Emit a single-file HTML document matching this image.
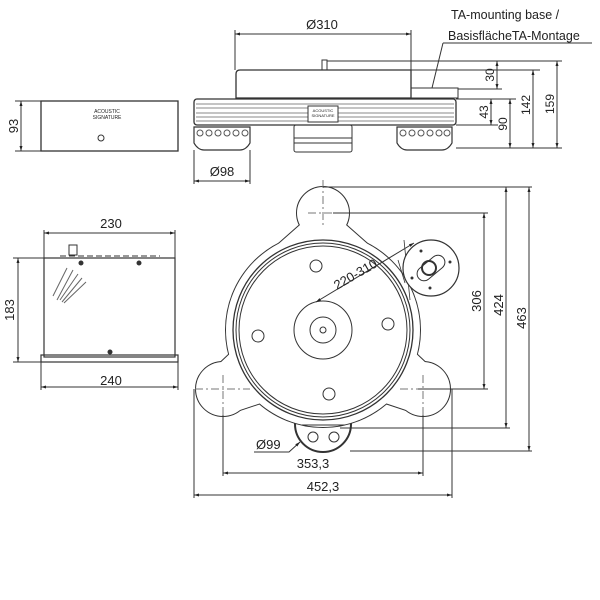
<!DOCTYPE html>
<html><head><style>body{margin:0;background:#fff}svg{display:block}text{font-family:"Liberation Sans",sans-serif;fill:#222}</style></head><body>
<svg width="600" height="600" viewBox="0 0 600 600" xmlns="http://www.w3.org/2000/svg">
<defs><marker id="a" viewBox="0 0 10 10" refX="10" refY="5" markerWidth="7" markerHeight="5" orient="auto-start-reverse"><path d="M0,2L10,5L0,8z" fill="#222"/></marker></defs>
<g stroke="#333" fill="none" stroke-width="1">
<line x1="235" y1="34" x2="411" y2="34" marker-start="url(#a)" marker-end="url(#a)"/>
<line x1="235" y1="30" x2="235" y2="70"/><line x1="411" y1="30" x2="411" y2="70"/>
<path d="M443,43H592M443,43L432,88"/>
<path d="M240,70H411V98H236V74Q236,70 240,70Z" stroke-width="1.3"/>
<rect x="322" y="60" width="5" height="10"/>
<line x1="327" y1="61" x2="562" y2="61"/><line x1="411" y1="70" x2="540" y2="70"/>
<rect x="411" y="88" width="47" height="10"/>
<line x1="458" y1="89" x2="502" y2="89"/>
<rect x="194" y="99" width="262" height="26" rx="3" stroke-width="1.3"/>
<path d="M196,104H454M196,108H454M196,113H454M196,117H454M196,121H454" stroke="#888"/>
<rect x="308" y="106" width="30" height="16" fill="#fff"/>
<path d="M456,99H516M456,125H498M456,148H562"/>
<path d="M194,127H250V143Q246,150 240,150H204Q198,150 194,143Z" stroke-width="1.2"/>
<path d="M397,127H452V143Q448,150 442,150H407Q401,150 397,143Z" stroke-width="1.2"/>
<rect x="294" y="125" width="58" height="27" rx="2"/>
<line x1="294" y1="138" x2="352" y2="138"/><line x1="294" y1="143" x2="352" y2="143"/>
<g stroke="#555"><circle cx="200" cy="133" r="3"/><circle cx="209" cy="133" r="3"/><circle cx="218" cy="133" r="3"/><circle cx="227" cy="133" r="3"/><circle cx="236" cy="133" r="3"/><circle cx="245" cy="133" r="3"/>
<circle cx="403" cy="133" r="3"/><circle cx="412" cy="133" r="3"/><circle cx="421" cy="133" r="3"/><circle cx="430" cy="133" r="3"/><circle cx="439" cy="133" r="3"/><circle cx="447" cy="133" r="3"/></g>
<line x1="497" y1="61" x2="497" y2="89" marker-start="url(#a)" marker-end="url(#a)"/>
<line x1="491" y1="99" x2="491" y2="125" marker-start="url(#a)" marker-end="url(#a)"/>
<line x1="510" y1="99" x2="510" y2="148" marker-start="url(#a)" marker-end="url(#a)"/>
<line x1="533" y1="70" x2="533" y2="148" marker-start="url(#a)" marker-end="url(#a)"/>
<line x1="557" y1="61" x2="557" y2="148" marker-start="url(#a)" marker-end="url(#a)"/>
<line x1="194" y1="150" x2="194" y2="184"/><line x1="250" y1="150" x2="250" y2="184"/>
<line x1="194" y1="181" x2="250" y2="181" marker-start="url(#a)" marker-end="url(#a)"/>
<rect x="41" y="101" width="137" height="50" stroke-width="1.3"/>
<circle cx="101" cy="138" r="3"/>
<line x1="15" y1="101" x2="41" y2="101"/><line x1="15" y1="151" x2="41" y2="151"/>
<line x1="21" y1="101" x2="21" y2="151" marker-start="url(#a)" marker-end="url(#a)"/>
<rect x="44" y="258" width="131" height="99" stroke-width="1.2"/>
<rect x="41" y="355" width="137" height="7" stroke-width="1.2"/>
<rect x="69" y="245" width="8" height="10"/>
<path d="M60,256H160" stroke-dasharray="6 3"/>
<circle cx="81" cy="263" r="2" fill="#333"/><circle cx="139" cy="263" r="2" fill="#333"/><circle cx="110" cy="352" r="2" fill="#333"/>
<line x1="44" y1="230" x2="44" y2="258"/><line x1="175" y1="230" x2="175" y2="258"/>
<line x1="44" y1="233" x2="175" y2="233" marker-start="url(#a)" marker-end="url(#a)"/>
<line x1="13" y1="258" x2="44" y2="258"/><line x1="13" y1="362" x2="41" y2="362"/>
<line x1="18" y1="258" x2="18" y2="362" marker-start="url(#a)" marker-end="url(#a)"/>
<line x1="41" y1="362" x2="41" y2="390"/><line x1="178" y1="362" x2="178" y2="390"/>
<line x1="41" y1="387" x2="178" y2="387" marker-start="url(#a)" marker-end="url(#a)"/>
<g stroke="#666"><path d="M57,300L73,270M60,300L78,274M62,302L82,278M64,303L86,282M53,296L67,268"/></g>
<g stroke-width="2" stroke="#333"><circle cx="323" cy="330" r="97"/><circle cx="323" cy="213" r="26"/><circle cx="223" cy="389" r="27"/><circle cx="423" cy="389" r="27"/>
<path d="M300,225L346,225L380,255L266,255Z"/><path d="M218,365L255,330L270,400L228,414Z"/><path d="M428,365L391,330L376,400L418,414Z"/>
<circle cx="323" cy="424" r="28"/></g>
<g fill="#fff" stroke="none"><circle cx="323" cy="330" r="97"/><circle cx="323" cy="213" r="26"/><circle cx="223" cy="389" r="27"/><circle cx="423" cy="389" r="27"/>
<path d="M300,225L346,225L380,255L266,255Z"/><path d="M218,365L255,330L270,400L228,414Z"/><path d="M428,365L391,330L376,400L418,414Z"/></g>
<circle cx="323" cy="330" r="90" stroke-width="1.3"/><circle cx="323" cy="330" r="87"/><circle cx="323" cy="330" r="84"/>
<circle cx="323" cy="330" r="29"/><circle cx="323" cy="330" r="13"/><circle cx="323" cy="330" r="3"/>
<circle cx="316" cy="266" r="6"/><circle cx="258" cy="336" r="6"/><circle cx="388" cy="324" r="6"/><circle cx="329" cy="394" r="6"/>
<path d="M398,260L405,283M404,240L410,300" stroke-width="0.8"/>
<circle cx="431" cy="268" r="28" fill="#fff" stroke-width="1.2"/>
<rect x="415" y="261" width="32" height="14" rx="7" transform="rotate(-40 431 268)"/><circle cx="429" cy="268" r="7" stroke-width="2"/>
<circle cx="421" cy="251" r="1" fill="#333"/><circle cx="450" cy="262" r="1" fill="#333"/><circle cx="412" cy="278" r="1" fill="#333"/><circle cx="430" cy="288" r="1" fill="#333"/>
<path d="M302,425H345" />
<circle cx="313" cy="437" r="5"/><circle cx="334" cy="437" r="5"/>
<g stroke="#777" stroke-dasharray="8 3 2 3"><line x1="323" y1="180" x2="323" y2="228"/><line x1="195" y1="389" x2="250" y2="389"/><line x1="400" y1="389" x2="455" y2="389"/><line x1="223" y1="375" x2="223" y2="420"/><line x1="423" y1="375" x2="423" y2="420"/><line x1="308" y1="213" x2="338" y2="213"/></g>
<line x1="316" y1="302" x2="414" y2="243" marker-start="url(#a)" marker-end="url(#a)"/>
<path d="M323,187H532M333,213H488M418,389H488M340,428H510M350,451H532"/>
<line x1="484" y1="213" x2="484" y2="389" marker-start="url(#a)" marker-end="url(#a)"/>
<line x1="506" y1="187" x2="506" y2="428" marker-start="url(#a)" marker-end="url(#a)"/>
<line x1="529" y1="187" x2="529" y2="451" marker-start="url(#a)" marker-end="url(#a)"/>
<path d="M223,415V476M423,415V476M194,389V498M452,389V498"/>
<line x1="223" y1="473" x2="423" y2="473" marker-start="url(#a)" marker-end="url(#a)"/>
<line x1="194" y1="495" x2="452" y2="495" marker-start="url(#a)" marker-end="url(#a)"/>
<path d="M254,452H289L300,442" marker-end="url(#a)"/>
</g>
<g font-size="12">
<text x="322" y="29" text-anchor="middle" font-size="13">Ø310</text>
<text x="451" y="19" font-size="12.5">TA-mounting base /</text>
<text x="448" y="40" font-size="12.5">BasisflächeTA-Montage</text>
<text x="222" y="176" text-anchor="middle" font-size="13">Ø98</text>
<text x="111" y="228" text-anchor="middle" font-size="13">230</text>
<text x="111" y="385" text-anchor="middle" font-size="13">240</text>
<text x="313" y="468" text-anchor="middle" font-size="13">353,3</text>
<text x="323" y="491" text-anchor="middle" font-size="13">452,3</text>
<text x="256" y="449" font-size="13">Ø99</text>
<text transform="translate(337,290) rotate(-30)" font-size="13">220-310</text>
<text transform="translate(18,126) rotate(-90)" text-anchor="middle" font-size="13">93</text>
<text transform="translate(14,310) rotate(-90)" text-anchor="middle" font-size="13">183</text>
<text transform="translate(494,75) rotate(-90)" text-anchor="middle">30</text>
<text transform="translate(488,112) rotate(-90)" text-anchor="middle">43</text>
<text transform="translate(507,124) rotate(-90)" text-anchor="middle">90</text>
<text transform="translate(530,105) rotate(-90)" text-anchor="middle">142</text>
<text transform="translate(554,104) rotate(-90)" text-anchor="middle">159</text>
<text transform="translate(481,301) rotate(-90)" text-anchor="middle" font-size="13">306</text>
<text transform="translate(503,305) rotate(-90)" text-anchor="middle" font-size="13">424</text>
<text transform="translate(526,318) rotate(-90)" text-anchor="middle" font-size="13">463</text>
<text x="323" y="112" font-size="4" text-anchor="middle">ACOUSTIC</text>
<text x="323" y="117" font-size="4" text-anchor="middle">SIGNATURE</text>
<text x="107" y="113" font-size="5" text-anchor="middle">ACOUSTIC</text>
<text x="107" y="119" font-size="5" text-anchor="middle">SIGNATURE</text>
</g>
</svg>
</body></html>
